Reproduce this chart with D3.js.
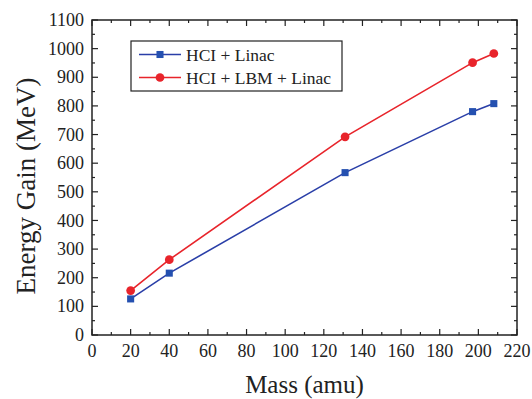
<!DOCTYPE html>
<html>
<head>
<meta charset="utf-8">
<script src="https://cdn.jsdelivr.net/npm/d3@7"></script>
<style>
  body { margin: 0; background: #fff; }
  svg text { fill: #222; }
</style>
</head>
<body>
<svg id="chart" font-family="'Liberation Serif', 'DejaVu Serif', 'Times New Roman', Times, serif"></svg>
<script>
// Data
var mass = [20, 40, 131, 197, 208];
var hciLinac = [126, 216, 567, 780, 808];
var hciLbmLinac = [155, 263, 692, 951, 983];
var seriesNames = ["HCI + Linac", "HCI + LBM + Linac"];
var xTicks = [0, 20, 40, 60, 80, 100, 120, 140, 160, 180, 200, 220];
var yTicks = [0, 100, 200, 300, 400, 500, 600, 700, 800, 900, 1000, 1100];

var width = 532, height = 399;
var margin = { top: 20, right: 15, bottom: 64, left: 92 };
var plotW = width - margin.left - margin.right,
    plotH = height - margin.top - margin.bottom;

var svg = d3.select("#chart")
    .attr("width", width)
    .attr("height", height);

var x = d3.scaleLinear().domain([0, 220]).range([0, plotW]);
var y = d3.scaleLinear().domain([0, 1100]).range([plotH, 0]);

var g = svg.append("g")
    .attr("transform", "translate(" + margin.left + "," + margin.top + ")");

// minor + major ticks, all pointing inward, on all four sides
var xMinor = d3.range(0, 221, 10), yMinor = d3.range(0, 1101, 50);

function tickLines(sel, vals, isMajor, horiz, atEnd) {
    var len = isMajor ? 6 : 3;
    sel.selectAll(null).data(vals).enter().append("line")
        .attr("stroke", "#222").attr("stroke-width", 1.2)
        .each(function (d) {
            var s = d3.select(this);
            if (horiz) {
                var yy = atEnd ? 0 : plotH;
                var dir = atEnd ? 1 : -1;
                s.attr("x1", x(d)).attr("x2", x(d)).attr("y1", yy).attr("y2", yy + dir * len);
            } else {
                var xx = atEnd ? plotW : 0;
                var dir2 = atEnd ? -1 : 1;
                s.attr("y1", y(d)).attr("y2", y(d)).attr("x1", xx).attr("x2", xx + dir2 * len);
            }
        });
}
var tg = g.append("g");
[false, true].forEach(function (end) {
    tickLines(tg, xMinor.filter(function (d) { return d % 20 !== 0; }), false, true, end);
    tickLines(tg, xTicks, true, true, end);
    tickLines(tg, yMinor.filter(function (d) { return d % 100 !== 0; }), false, false, end);
    tickLines(tg, yTicks, true, false, end);
});

// frame
g.append("rect")
    .attr("width", plotW).attr("height", plotH)
    .attr("fill", "none").attr("stroke", "#222").attr("stroke-width", 1.5);

// tick labels
g.selectAll(".xl").data(xTicks).enter().append("text")
    .attr("x", function (d) { return x(d); })
    .attr("y", plotH + 22)
    .attr("text-anchor", "middle")
    .style("font-size", "18px")
    .text(function (d) { return d; });

g.selectAll(".yl").data(yTicks).enter().append("text")
    .attr("x", -8)
    .attr("y", function (d) { return y(d); })
    .attr("dy", "0.34em")
    .attr("text-anchor", "end")
    .style("font-size", "18px")
    .text(function (d) { return d; });

// axis titles
svg.append("text")
    .attr("x", margin.left + plotW / 2)
    .attr("y", 393)
    .attr("text-anchor", "middle")
    .style("font-size", "25px")
    .text("Mass (amu)");

svg.append("text")
    .attr("transform", "translate(35,186) rotate(-90)")
    .attr("text-anchor", "middle")
    .style("font-size", "27px")
    .text("Energy Gain (MeV)");

// series
var series = [
    { name: seriesNames[0], values: hciLinac, color: "#2a3fa8", fill: "#2450b0", shape: d3.symbolSquare },
    { name: seriesNames[1], values: hciLbmLinac, color: "#e8242b", fill: "#e8242b", shape: d3.symbolCircle }
];

var line = d3.line()
    .x(function (d) { return x(d[0]); })
    .y(function (d) { return y(d[1]); });

series.forEach(function (s) {
    var pts = mass.map(function (m, i) { return [m, s.values[i]]; });
    g.append("path")
        .datum(pts)
        .attr("d", line)
        .attr("fill", "none")
        .attr("stroke", s.color)
        .attr("stroke-width", 1.6);
    g.selectAll(null).data(pts).enter().append("path")
        .attr("d", d3.symbol().type(s.shape).size(s.shape === d3.symbolSquare ? 50 : 60))
        .attr("transform", function (d) { return "translate(" + x(d[0]) + "," + y(d[1]) + ")"; })
        .attr("fill", s.fill);
});

// legend
var lg = svg.append("g").attr("transform", "translate(131,41)");
lg.append("rect")
    .attr("width", 211).attr("height", 50)
    .attr("fill", "#fff").attr("stroke", "#222").attr("stroke-width", 1.2);
series.forEach(function (s, i) {
    var yy = 13.5 + i * 23;
    lg.append("line")
        .attr("x1", 8).attr("x2", 50).attr("y1", yy).attr("y2", yy)
        .attr("stroke", s.color).attr("stroke-width", 1.6);
    lg.append("path")
        .attr("d", d3.symbol().type(s.shape).size(s.shape === d3.symbolSquare ? 50 : 60))
        .attr("transform", "translate(29," + yy + ")")
        .attr("fill", s.fill);
    lg.append("text")
        .attr("x", 55).attr("y", yy).attr("dy", "0.35em")
        .style("font-size", "17.5px")
        .text(s.name);
});
</script>
</body>
</html>
